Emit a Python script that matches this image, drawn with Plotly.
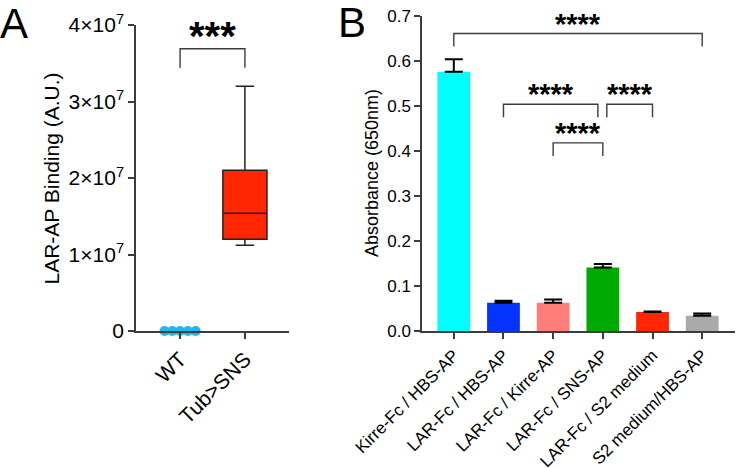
import plotly.graph_objects as go

# ---- panel A: LAR-AP binding ------------------------------------------------
A_CATS = ["WT", "Tub>SNS"]
WT_X = [-0.24, -0.12, 0.0, 0.12, 0.24]          # jittered dot positions around WT
WT_Y = [0, 0, 0, 0, 0]
SNS_Q1, SNS_MED, SNS_Q3 = 1.20e7, 1.54e7, 2.10e7
SNS_MIN, SNS_MAX = 1.12e7, 3.20e7
A_TICKS = [0, 1e7, 2e7, 3e7, 4e7]
A_TICKTEXT = ["0", "1×10<sup>7</sup>", "2×10<sup>7</sup>", "3×10<sup>7</sup>", "4×10<sup>7</sup>"]
A_BRACKETS = [(0, 1, 3.69e7, 3.44e7, "***")]   # x0, x1, top, foot, label

# ---- panel B: absorbance ----------------------------------------------------
B_CATS = ["Kirre-Fc / HBS-AP", "LAR-Fc / HBS-AP", "LAR-Fc / Kirre-AP",
          "LAR-Fc / SNS-AP", "LAR-Fc / S2 medium", "S2 medium/HBS-AP"]
B_MEAN = [0.576, 0.063, 0.063, 0.141, 0.042, 0.034]
B_ERR = [0.028, 0.004, 0.007, 0.008, 0.0015, 0.005]
B_COLORS = ["#00FFFF", "#0433FF", "#FF7E79", "#00AA00", "#FF2600", "#AAAAAA"]
B_BRACKETS = [(0, 5, 0.661, 0.632, "****"),
              (1, 2.9, 0.504, 0.475, "****"),
              (3.08, 4, 0.504, 0.475, "****"),
              (2, 3, 0.418, 0.389, "****")]

FONT = "Liberation Sans, Arial, sans-serif"
AX = "#3c3c3c"
W, H = 738, 468


def px_x(p):
    return p / W


def px_y(p):
    return 1 - p / H


def _axis(**extra):
    base = dict(showline=True, linecolor=AX, linewidth=1.5, ticks="outside",
                ticklen=6, tickwidth=1.5, tickcolor=AX, showgrid=False,
                zeroline=False, automargin=False,
                tickfont=dict(family=FONT, color="black"))
    base.update(extra)
    return base


fig = go.Figure()

fig.add_trace(go.Box(x=[1], q1=[SNS_Q1], median=[SNS_MED], q3=[SNS_Q3],
                     lowerfence=[SNS_MIN], upperfence=[SNS_MAX], width=0.68,
                     whiskerwidth=0.42, fillcolor="#FF2600",
                     line=dict(color="#222222", width=1.5), boxpoints=False,
                     xaxis="x", yaxis="y", hoverinfo="skip"))
fig.add_trace(go.Scatter(x=WT_X, y=WT_Y, mode="markers", cliponaxis=False,
                         marker=dict(size=10, color="#1DB8EE"),
                         xaxis="x", yaxis="y"))

fig.add_trace(go.Bar(x=list(range(len(B_CATS))), y=B_MEAN, width=0.66,
                     marker=dict(color=B_COLORS, line=dict(width=0)),
                     error_y=dict(type="data", symmetric=False, array=B_ERR,
                                  arrayminus=[0] * len(B_ERR), color="black",
                                  thickness=2, width=9),
                     xaxis="x2", yaxis="y2"))

shapes, annos = [], []
for ref, brackets, fs, shift in (("", A_BRACKETS, 40, -11), ("2", B_BRACKETS, 29, -8)):
    for x0, x1, top, foot, label in brackets:
        shapes.append(dict(type="path", xref="x" + ref, yref="y" + ref,
                           path=f"M {x0},{foot} L {x0},{top} L {x1},{top} L {x1},{foot}",
                           line=dict(color=AX, width=1.4)))
        annos.append(dict(x=(x0 + x1) / 2, y=top, xref="x" + ref, yref="y" + ref,
                          text=f"<b>{label}</b>", showarrow=False, yanchor="bottom",
                          yshift=shift, font=dict(family=FONT, size=fs, color="black")))

annos += [
    dict(text="A", x=px_x(-2), y=px_y(-2), xref="paper", yref="paper", xanchor="left",
         yanchor="top", showarrow=False, font=dict(family=FONT, size=42, color="black")),
    dict(text="B", x=px_x(336), y=px_y(-3), xref="paper", yref="paper", xanchor="left",
         yanchor="top", showarrow=False, font=dict(family=FONT, size=42, color="black")),
    dict(text="LAR-AP Binding (A.U.)", x=px_x(37), y=px_y(179), xref="paper", yref="paper",
         textangle=-90, showarrow=False, font=dict(family=FONT, size=21, color="black")),
    dict(text="Absorbance (650nm)", x=px_x(372), y=px_y(173), xref="paper", yref="paper",
         textangle=-90, showarrow=False, font=dict(family=FONT, size=18, color="black")),
]

fig.update_layout(
    template="none",
    width=W, height=H, margin=dict(l=0, r=0, t=0, b=0),
    paper_bgcolor="white", plot_bgcolor="white", showlegend=False,
    xaxis=_axis(domain=[px_x(136), px_x(289)], range=[-0.68, 1.68],
                tickvals=[0, 1], ticktext=A_CATS, tickangle=-45,
                tickfont=dict(family=FONT, size=21, color="black")),
    yaxis=_axis(domain=[px_y(331), px_y(25)], range=[0, 4e7],
                tickvals=A_TICKS, ticktext=A_TICKTEXT,
                tickfont=dict(family=FONT, size=21, color="black")),
    xaxis2=_axis(domain=[px_x(422), px_x(735)], range=[-0.64, 5.66], anchor="y2",
                 tickvals=list(range(len(B_CATS))), ticktext=B_CATS, tickangle=-45,
                 tickfont=dict(family=FONT, size=17, color="black")),
    yaxis2=_axis(domain=[px_y(331), px_y(16)], range=[0, 0.7], anchor="x2",
                 dtick=0.1, tickformat=".1f",
                 tickfont=dict(family=FONT, size=17, color="black")),
    shapes=shapes, annotations=annos,
)

# drop the browser's default 8px body margin so the figure fills the window exactly
fig.write_html("out.html", config={"displayModeBar": False},
               post_script="document.body.style.margin='0';"
                           "document.body.style.overflow='hidden';")
